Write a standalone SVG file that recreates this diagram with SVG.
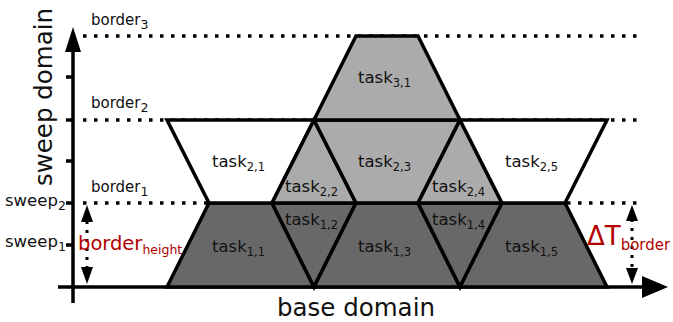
<svg xmlns="http://www.w3.org/2000/svg" width="673" height="322" viewBox="0 0 673 322">
<defs>
<style>
.t{font-family:"DejaVu Sans","Liberation Sans",sans-serif;fill:#111}
.tl{font-size:16.5px}
.sub{font-size:11.5px}
.lbl{font-size:15px}
.lsub{font-size:12.5px}
.ax{font-size:24.5px}
.red{fill:#b30000}
.dot{stroke:#000;stroke-width:3.5;stroke-dasharray:3.5 7.5;fill:none}
.task{stroke:#000;stroke-width:3.5;stroke-linejoin:miter}
.d{fill:#686868}
.l{fill:#ababab}
.w{fill:#fff}
.axis{stroke:#000;stroke-width:3.5;fill:none}
</style>
</defs>
<rect width="673" height="322" fill="#fff"/>
<g id="guides">
<line class="dot" x1="83" y1="36" x2="642" y2="36"/>
<line class="dot" x1="83" y1="120" x2="642" y2="120"/>
<line class="dot" x1="83" y1="203" x2="642" y2="203"/>
</g>
<g id="axes">
<line class="axis" x1="73" y1="303" x2="73" y2="50"/>
<polygon points="73,27 65,52 81,52" fill="#000"/>
<line class="axis" x1="58" y1="287" x2="645" y2="287"/>
<polygon points="668,287 642,276 642,298" fill="#000"/>
<line class="axis" x1="66" y1="77" x2="73" y2="77"/>
<line class="axis" x1="66" y1="120" x2="73" y2="120"/>
<line class="axis" x1="66" y1="161" x2="73" y2="161"/>
<line class="axis" x1="66" y1="203" x2="73" y2="203"/>
<line class="axis" x1="66" y1="245" x2="73" y2="245"/>
</g>
<g id="task11"><polygon class="task d" points="167,287 209,203 272,203 314,287"/><text class="t tl" x="212" y="252">task<tspan class="sub" dy="4">1,1</tspan></text></g>
<g id="task12"><polygon class="task d" points="272,203 356,203 314,287"/><text class="t tl" x="285" y="225">task<tspan class="sub" dy="4">1,2</tspan></text></g>
<g id="task13"><polygon class="task d" points="314,287 356,203 418,203 460,287"/><text class="t tl" x="358" y="252">task<tspan class="sub" dy="4">1,3</tspan></text></g>
<g id="task14"><polygon class="task d" points="418,203 502,203 460,287"/><text class="t tl" x="432" y="225">task<tspan class="sub" dy="4">1,4</tspan></text></g>
<g id="task15"><polygon class="task d" points="460,287 502,203 565,203 607,287"/><text class="t tl" x="505" y="252">task<tspan class="sub" dy="4">1,5</tspan></text></g>
<g id="task21"><polygon class="task w" points="167,120 314,120 272,203 209,203"/><text class="t tl" x="212" y="167">task<tspan class="sub" dy="4">2,1</tspan></text></g>
<g id="task22"><polygon class="task l" points="314,120 356,203 272,203"/><text class="t tl" x="285" y="192">task<tspan class="sub" dy="4">2,2</tspan></text></g>
<g id="task23"><polygon class="task l" points="314,120 460,120 418,203 356,203"/><text class="t tl" x="358" y="167">task<tspan class="sub" dy="4">2,3</tspan></text></g>
<g id="task24"><polygon class="task l" points="460,120 502,203 418,203"/><text class="t tl" x="432" y="192">task<tspan class="sub" dy="4">2,4</tspan></text></g>
<g id="task25"><polygon class="task w" points="460,120 607,120 565,203 502,203"/><text class="t tl" x="505" y="167">task<tspan class="sub" dy="4">2,5</tspan></text></g>
<g id="task31"><polygon class="task l" points="314,120 356,36 418,36 460,120"/><text class="t tl" x="358" y="83">task<tspan class="sub" dy="4">3,1</tspan></text></g>
<g id="measures">
<line class="dot" x1="87" y1="221" x2="87" y2="268" style="stroke-width:3;stroke-dasharray:3 6"/>
<polygon points="87,205 81,222 93,222" fill="#000"/>
<polygon points="87,284 81,267 93,267" fill="#000"/>
<line class="dot" x1="632" y1="219" x2="632" y2="270" style="stroke-width:3;stroke-dasharray:3 6"/>
<polygon points="632,205 626,221 638,221" fill="#000"/>
<polygon points="632,284 626,268 638,268" fill="#000"/>
</g>
<g id="labels">
<text class="t lbl" x="91" y="25">border<tspan class="lsub" dy="4">3</tspan></text>
<text class="t lbl" x="91" y="108">border<tspan class="lsub" dy="4">2</tspan></text>
<text class="t lbl" x="91" y="192">border<tspan class="lsub" dy="4">1</tspan></text>
<text class="t lbl" x="5" y="206" style="font-size:16.5px">sweep<tspan class="lsub" dy="4">2</tspan></text>
<text class="t lbl" x="5" y="247" style="font-size:16.5px">sweep<tspan class="lsub" dy="4">1</tspan></text>
<text class="t red" x="78" y="250" style="font-size:19.5px">border<tspan style="font-size:12.5px" dy="4">height</tspan></text>
<text class="t red" x="587" y="245" style="font-size:26px">ΔT<tspan style="font-size:15px" dy="5">border</tspan></text>
<text class="t ax" x="356" y="316" text-anchor="middle">base domain</text>
<text class="t ax" transform="translate(52,97) rotate(-90)" text-anchor="middle">sweep domain</text>
</g>
</svg>
